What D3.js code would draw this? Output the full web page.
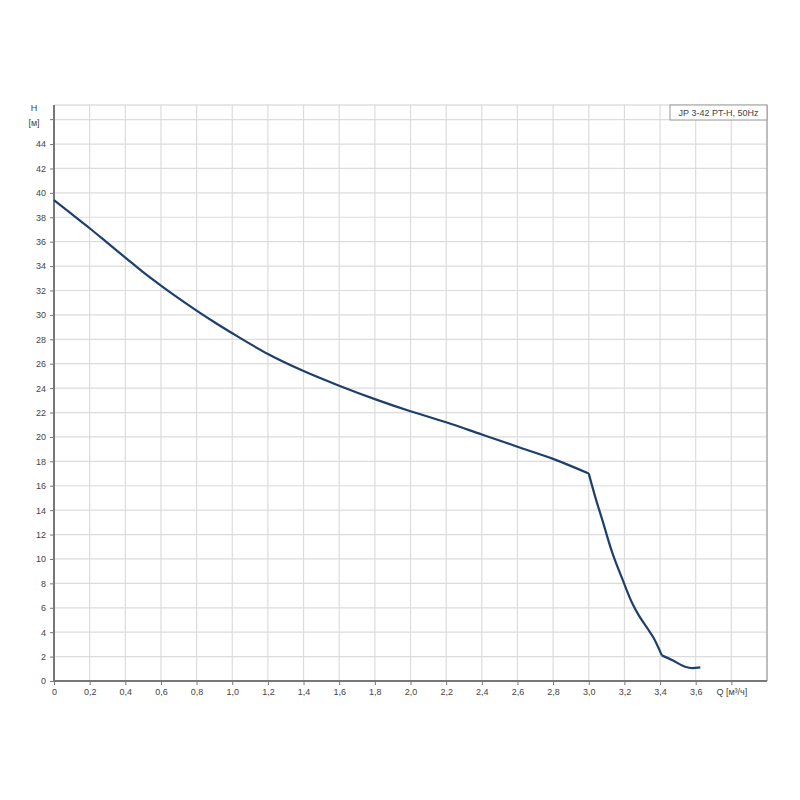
<!DOCTYPE html>
<html>
<head>
<meta charset="utf-8">
<script src="https://cdn.jsdelivr.net/npm/d3@7"></script>
<style>
  body { margin: 0; background: #fff; }
  svg text { font-family: "Liberation Sans", Arial, sans-serif; }
</style>
</head>
<body>
<svg width="800" height="800"></svg>
<script>
// pump curve JP 3-42 PT-H
var flowQ = [0, 0.1, 0.2, 0.3, 0.4, 0.5, 0.6, 0.7, 0.8, 0.9, 1.0, 1.2, 1.4, 1.6, 1.8, 2.0, 2.2, 2.4, 2.6, 2.8, 3.0,
             3.04, 3.076, 3.13, 3.19, 3.24, 3.28, 3.33, 3.365, 3.41, 3.47, 3.54, 3.58, 3.626];
var headH = [39.4, 38.25, 37.1, 35.9, 34.7, 33.5, 32.4, 31.35, 30.35, 29.4, 28.5, 26.8, 25.4, 24.2, 23.1, 22.1, 21.2, 20.2, 19.2, 18.2, 17.0,
             14.9, 13.2, 10.6, 8.3, 6.5, 5.4, 4.3, 3.5, 2.1, 1.7, 1.17, 1.06, 1.12];
// the curve has corners at these flows
var kinkQ = [3.0, 3.41];
var xTicks = [0, 0.2, 0.4, 0.6, 0.8, 1.0, 1.2, 1.4, 1.6, 1.8, 2.0, 2.2, 2.4, 2.6, 2.8, 3.0, 3.2, 3.4, 3.6, 3.8];
var yTicks = [0, 2, 4, 6, 8, 10, 12, 14, 16, 18, 20, 22, 24, 26, 28, 30, 32, 34, 36, 38, 40, 42, 44, 46];
var legendText = "JP 3-42 PT-H, 50Hz";

var svg = d3.select("svg"),
	margin = {top: 105, right: 33, bottom: 119, left: 54},
	width = 800 - margin.left - margin.right,
	height = 800 - margin.top - margin.bottom,
	g = svg.append("g").attr("transform", "translate(" + margin.left + "," + margin.top + ")");

var x = d3.scaleLinear().domain([0, 4.0]).range([0, width]);
var y = d3.scaleLinear().domain([0, 47.2]).range([height, 0]);

// grid
g.append("g").selectAll("line").data(xTicks.slice(1)).join("line")
	.attr("x1", function(d) { return x(d); })
	.attr("x2", function(d) { return x(d); })
	.attr("y1", 0).attr("y2", height)
	.attr("stroke", "#dcdcdc").attr("stroke-width", 1.2);
g.append("g").selectAll("line").data(yTicks.slice(1)).join("line")
	.attr("x1", 0).attr("x2", width)
	.attr("y1", function(d) { return y(d); })
	.attr("y2", function(d) { return y(d); })
	.attr("stroke", "#dcdcdc").attr("stroke-width", 1.2);

// frame top + right
g.append("line").attr("x1", 0).attr("x2", width).attr("y1", 0).attr("y2", 0)
	.attr("stroke", "#cfcfcf").attr("stroke-width", 1.2);
g.append("line").attr("x1", width).attr("x2", width).attr("y1", 0).attr("y2", height)
	.attr("stroke", "#a8a8a8").attr("stroke-width", 1.5);

// axes
var fmt = function(d) { return d3.format(".1f")(d).replace(".", ","); };

var xAxis = g.append("g")
	.attr("transform", "translate(0," + height + ")")
	.call(d3.axisBottom(x).tickValues(xTicks).tickSize(4).tickPadding(4)
		.tickFormat(function(d) { return d === 0 ? "0" : (d === 3.8 ? "Q [м³/ч]" : fmt(d)); }));
xAxis.select(".domain").attr("d", "M0,0H" + width).attr("stroke", "#777").attr("stroke-width", 2);
xAxis.selectAll(".tick line").attr("stroke", "#777");
xAxis.selectAll("text").attr("fill", "#444").attr("font-size", "9px");

var yAxis = g.append("g")
	.call(d3.axisLeft(y).tickValues(yTicks.slice(0, -1)).tickSize(4).tickPadding(4));
yAxis.select(".domain").attr("d", "M0," + height + "V0").attr("stroke", "#777").attr("stroke-width", 2);
yAxis.selectAll(".tick line").attr("stroke", "#777");
yAxis.selectAll("text").attr("fill", "#444").attr("font-size", "9px");

// top tick carries the unit label
g.append("line").attr("x1", -4).attr("x2", 0)
	.attr("y1", y(46)).attr("y2", y(46)).attr("stroke", "#777");
g.append("text").attr("x", -20).attr("y", 6).attr("text-anchor", "middle")
	.attr("fill", "#444").attr("font-size", "9px").text("H");
g.append("text").attr("x", -20).attr("y", 21).attr("text-anchor", "middle")
	.attr("fill", "#444").attr("font-size", "9px").text("[м]");

// legend box
var lg = g.append("g").attr("transform", "translate(" + (width - 97) + ",0)");
lg.append("rect").attr("width", 97).attr("height", 15)
	.attr("fill", "#fff").attr("stroke", "#999");
lg.append("text").attr("x", 48.5).attr("y", 11).attr("text-anchor", "middle")
	.attr("fill", "#444").attr("font-size", "9px").text(legendText);

// curve, smooth between the corners
var data = flowQ.map(function(q, i) { return {q: q, h: headH[i]}; });
var bounds = [0].concat(kinkQ, [Infinity]);
var pieces = [];
for (var k = 0; k < bounds.length - 1; k++) {
	pieces.push(data.filter(function(d) { return d.q >= bounds[k] && d.q <= bounds[k + 1]; }));
}

var line = d3.line()
	.x(function(d) { return x(d.q); })
	.y(function(d) { return y(d.h); })
	.curve(d3.curveMonotoneX);

g.append("path")
	.attr("fill", "none")
	.attr("stroke", "#1d3f6e")
	.attr("stroke-width", 2.2)
	.attr("stroke-linejoin", "round")
	.attr("d", pieces.map(function(p) { return line(p); }).join(""));
</script>
</body>
</html>
